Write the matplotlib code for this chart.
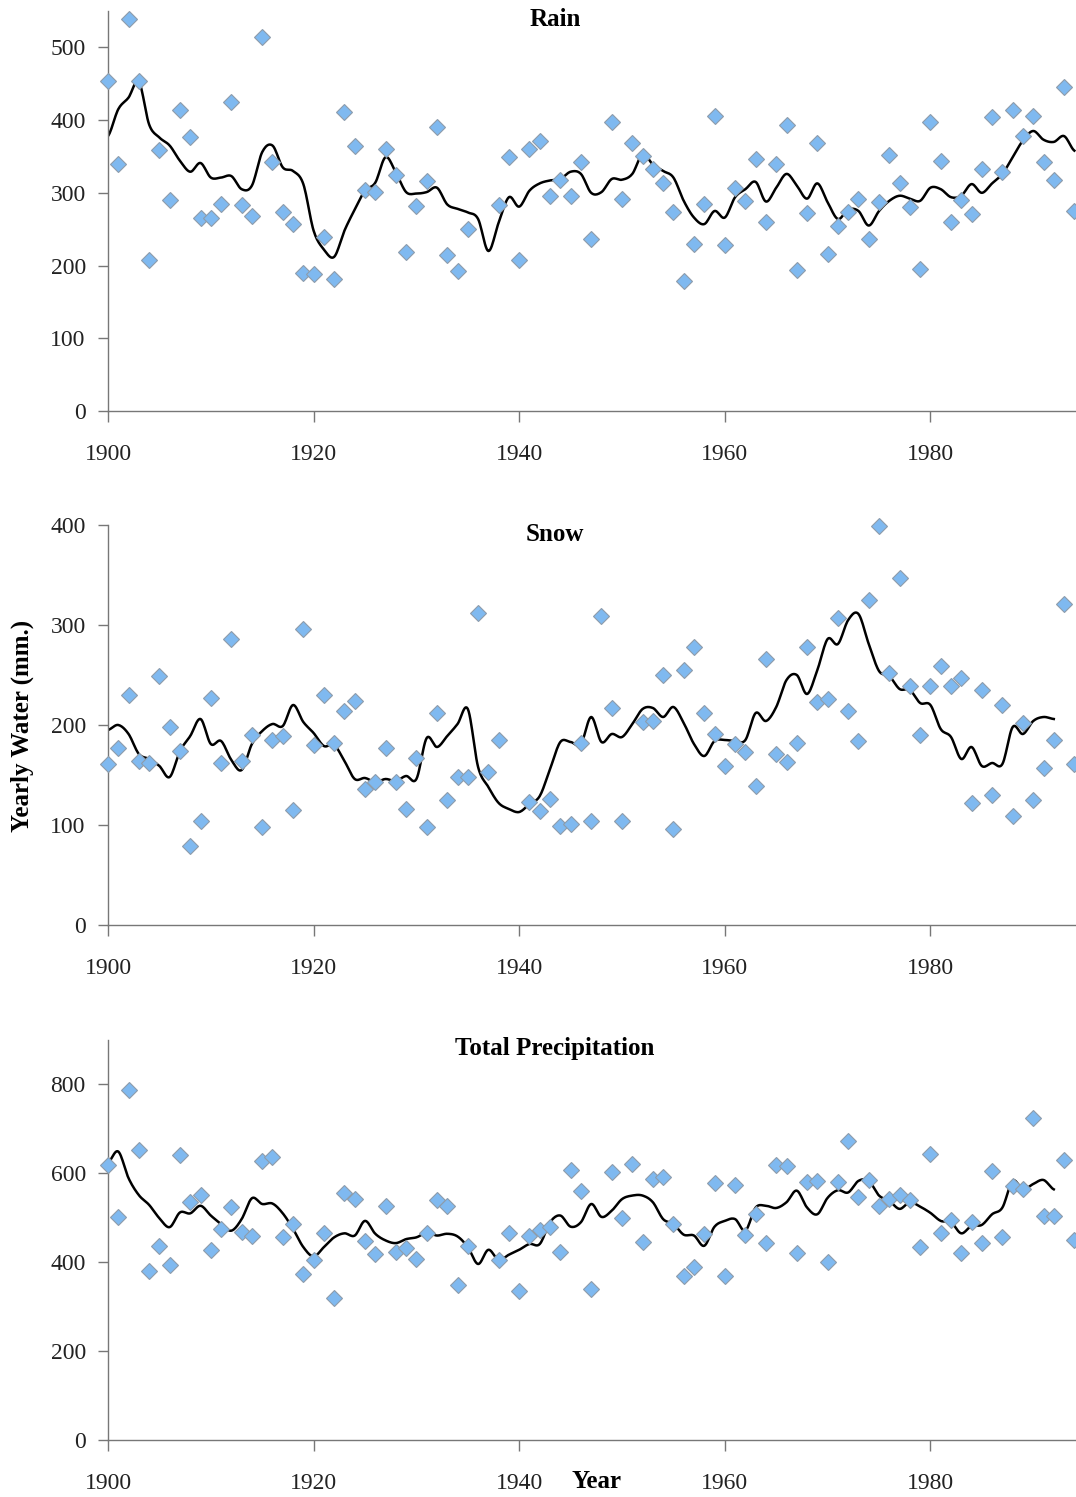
import numpy as np
import matplotlib
matplotlib.use("Agg")
import matplotlib.pyplot as plt

plt.rcParams['font.family'] = ['Liberation Serif', 'DejaVu Serif']

nan = np.nan
years = np.arange(1900, 1995)

rain = [454, 340, 539, 454, 207, 359, 290, 414, 377, 265,
        265, 284, 425, 283, 268, 514, 343, 274, 257, 190,
        189, 239, 182, 411, 365, 304, 301, 360, 325, 219,
        282, 316, 390, 215, 193, 250, nan, nan, 283, 349,
        208, 360, 371, 296, 317, 296, 343, 236, nan, 398,
        292, 369, 350, 333, 313, 274, 179, 229, 284, 406,
        228, 307, 289, 346, 260, 340, 393, 194, 272, 369,
        216, 254, 274, 292, 237, 288, 352, 313, 281, 195,
        398, 344, 260, 290, 271, 333, 404, 329, 414, 378,
        405, 342, 317, 446, 275]

snow = [161, 177, 230, 164, 162, 249, 198, 174, 79, 104,
        227, 162, 286, 164, 190, 98, 185, 189, 115, 296,
        180, 230, 182, 214, 224, 136, 143, 177, 143, 116,
        167, 98, 212, 125, 148, 148, 312, 153, 185, nan,
        nan, 123, 114, 126, 99, 101, 182, 104, 309, 217,
        104, nan, 203, 204, 250, 96, 255, 278, 212, 191,
        159, 181, 173, 139, 266, 171, 163, 182, 278, 223,
        226, 307, 214, 184, 325, 399, 252, 347, 239, 190,
        239, 259, 239, 247, 122, 235, 130, 220, 109, 202,
        125, 157, 185, 321, 161]

total = [618, 502, 787, 652, 381, 437, 393, 641, 536, 551,
         428, 475, 525, 469, 460, 628, 637, 456, 487, 374,
         404, 465, 319, 555, 542, 447, 419, 527, 422, 431,
         407, 465, 540, 527, 349, 436, nan, nan, 405, 465,
         336, 460, 473, 480, 424, 607, 561, 340, nan, 602,
         499, 621, 445, 587, 591, 486, 370, 390, 464, 579,
         368, 573, 461, 508, 443, 619, 617, 420, 581, 583,
         400, 581, 673, 546, 585, 527, 542, 552, 541, 435,
         644, 466, 496, 421, 491, 443, 606, 456, 572, 564,
         725, 505, 505, 630, 449]

# running-mean curves
rain_trend = [378, 415, 431, 453, 394, 376, 365, 344, 329, 341,
              321, 321, 323, 305, 310, 356, 365, 335, 330, 312,
              248, 222, 212, 248, 277, 303, 314, 349, 328, 301,
              299, 301, 307, 284, 278, 273, 264, 220, 259, 294,
              281, 303, 313, 317, 319, 329, 326, 300, 301, 319,
              318, 326, 353, 339, 330, 321, 289, 266, 257, 275,
              266, 294, 305, 315, 288, 307, 326, 310, 292, 313,
              287, 264, 277, 275, 255, 275, 289, 296, 292, 289,
              307, 305, 294, 296, 312, 300, 313, 326, 349, 372,
              385, 373, 370, 378, 358]

snow_trend = [195, 200, 191, 171, 166, 159, 148, 174, 189, 206,
              181, 184, 165, 155, 181, 194, 201, 199, 220, 203,
              192, 179, 180, 164, 146, 147, 143, 146, 144, 149,
              146, 187, 178, 189, 201, 216, 158, 138, 122, 116,
              113, 121, 129, 156, 183, 183, 181, 208, 183, 191,
              188, 201, 216, 217, 208, 218, 202, 181, 169, 184,
              185, 184, 185, 212, 204, 218, 245, 250, 231, 255,
              286, 281, 305, 311, 281, 254, 249, 236, 235, 222,
              220, 196, 188, 166, 178, 159, 162, 161, 198, 191,
              204, 208, 206]

total_trend = [624, 649, 589, 551, 529, 499, 479, 512, 510, 527,
               505, 486, 471, 497, 544, 531, 532, 510, 475, 434,
               413, 434, 456, 465, 460, 493, 464, 449, 443, 452,
               456, 466, 460, 464, 458, 434, 396, 428, 405, 417,
               428, 441, 441, 490, 505, 480, 490, 531, 502, 516,
               542, 550, 550, 535, 497, 486, 462, 460, 437, 480,
               493, 497, 471, 523, 527, 522, 535, 561, 523, 508,
               545, 562, 557, 583, 583, 550, 538, 520, 535, 525,
               511, 493, 490, 465, 482, 484, 508, 523, 583, 564,
               576, 585, 564]


def smooth_line(x, y, n=12):
    # Catmull-Rom drawing, like a spreadsheet "smoothed line"
    x = np.asarray(x, float)
    y = np.asarray(y, float)
    xs, ys = [], []
    for i in range(len(x) - 1):
        y0 = y[i - 1] if i > 0 else y[i]
        y3 = y[i + 2] if i + 2 < len(y) else y[i + 1]
        t = np.linspace(0, 1, n, endpoint=False)
        y1, y2 = y[i], y[i + 1]
        yy = 0.5 * ((2 * y1) + (-y0 + y2) * t
                    + (2 * y0 - 5 * y1 + 4 * y2 - y3) * t ** 2
                    + (-y0 + 3 * y1 - 3 * y2 + y3) * t ** 3)
        xs.append(x[i] + (x[i + 1] - x[i]) * t)
        ys.append(yy)
    xs.append([x[-1]])
    ys.append([y[-1]])
    return np.concatenate(xs), np.concatenate(ys)


W, H = 1076, 1497
fig = plt.figure(figsize=(W / 100, H / 100), dpi=100)

panels = [
    ("Rain", rain, rain_trend, 550, [0, 100, 200, 300, 400, 500], 411, 20),
    ("Snow", snow, snow_trend, 400, [0, 100, 200, 300, 400], 925, 535),
    ("Total Precipitation", total, total_trend, 900, [0, 200, 400, 600, 800], 1440, 1049),
]

left = 108
for title, vals, trend, ymax, yt, ybot, ytitle in panels:
    ax = fig.add_axes([left / W, (H - ybot) / H, (W - left) / W, 400 / H])
    tx = years[:len(trend)]
    sx, sy = smooth_line(tx, trend)
    ax.plot(sx, sy, color='black', lw=1.8, zorder=2)
    ax.plot(years, vals, 'D', ms=8.2, mfc='#7fb9f0', mec='#8d9cab',
            mew=0.8, clip_on=False, zorder=3)
    ax.set_xlim(1900, 1994.16)
    ax.set_ylim(0, ymax)
    ax.set_xticks(np.arange(1900, 1981, 20))
    ax.set_yticks(yt)
    for s in ('top', 'right'):
        ax.spines[s].set_visible(False)
    for s in ('left', 'bottom'):
        ax.spines[s].set_color('#777777')
        ax.spines[s].set_linewidth(1.0)
    ax.tick_params(axis='x', direction='out', length=8, width=1.0,
                   color='#777777', labelsize=17, pad=16, labelcolor='#222222')
    ax.tick_params(axis='y', direction='out', length=7, width=1.0,
                   color='#777777', labelsize=17, pad=9, labelcolor='#222222')
    fig.text(555 / W, 1 - ytitle / H, title, ha='center', va='center',
             fontsize=18, fontweight='bold')

fig.text(22 / W, 1 - 726 / H, "Yearly Water (mm.)", rotation=90,
         ha='center', va='center', fontsize=18, fontweight='bold')
fig.text(596 / W, 1 - 1481 / H, "Year", ha='center', va='center',
         fontsize=18, fontweight='bold')

fig.savefig("out.png", dpi=100)
